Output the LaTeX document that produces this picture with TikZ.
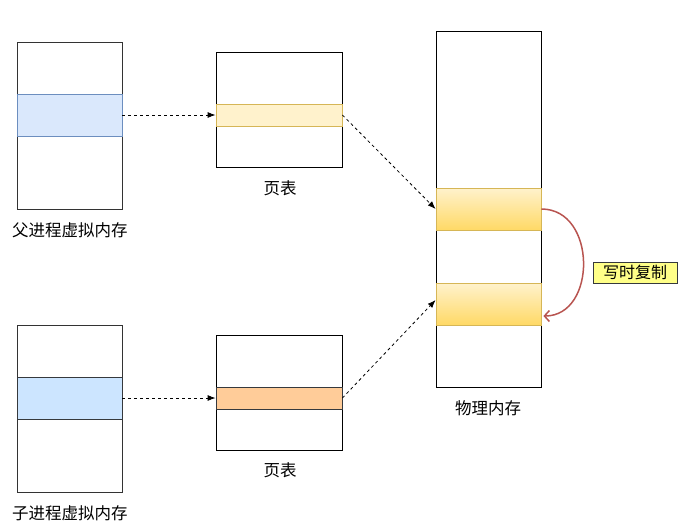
\documentclass[tikz,border=0pt]{standalone}
\usepackage{fontspec}
\setmainfont{Noto Sans CJK SC}
\usepackage{xcolor}
\usepackage{tikz}
\usetikzlibrary{calc,positioning,arrows.meta}
\definecolor{outline}{HTML}{000000}
\definecolor{bluefill}{HTML}{DAE8FC}
\definecolor{blueline}{HTML}{6C8EBF}
\definecolor{childfill}{HTML}{CCE5FF}
\definecolor{darkline}{HTML}{36393D}
\definecolor{yellowfill}{HTML}{FFF2CC}
\definecolor{yellowline}{HTML}{D6B656}
\definecolor{goldfill}{HTML}{FFD966}
\definecolor{orangefill}{HTML}{FFCC99}
\definecolor{notefill}{HTML}{FFFF88}
\definecolor{redline}{HTML}{B85450}
\definecolor{textmain}{HTML}{000000}

\begin{document}
\begin{tikzpicture}[
  x=1pt, y=-1pt,
  memblock/.style={
    rectangle, draw=outline!80, line width=1pt, fill=white,
    minimum width=105pt, inner sep=0pt,
  },
  tableblock/.style={
    rectangle, draw=outline, line width=1pt, fill=white,
    minimum width=126pt, minimum height=115pt, inner sep=0pt,
  },
  entry/.style={
    rectangle, line width=0.8pt, inner sep=0pt,
  },
  caption/.style={
    inner sep=0pt, font=\fontsize{16.5}{18}\selectfont, text=textmain,
  },
  maparrow/.style={
    -{Latex[length=8pt,width=6pt]}, dashed, dash pattern=on 3pt off 3pt,
    line width=0.8pt, draw=black,
  },
]
\useasboundingbox (0,0) rectangle (691,528);

% parent side
\node[memblock, minimum height=167pt] (vmparent) at (69.5, 125.5) {};
\node[entry, fill=bluefill, draw=blueline, minimum width=105pt, minimum height=42pt] (vpage) at (69.5, 115) {};
\node[caption] (lparent) at (70, 230) {父进程虚拟内存};

\node[tableblock] (ptparent) at (279, 109.5) {};
\node[entry, fill=yellowfill, draw=yellowline, minimum width=126pt, minimum height=22pt] (pteparent) at (279, 115) {};
\node[caption] (lptparent) at (280, 188) {页表};

% child side
\node[memblock, minimum height=167pt] (vmchild) at (69.5, 408.5) {};
\node[entry, fill=childfill, draw=darkline, minimum width=105pt, minimum height=42pt] (vchild) at (69.5, 398) {};
\node[caption] (lchild) at (70, 513) {子进程虚拟内存};

\node[tableblock] (ptchild) at (279, 392.5) {};
\node[entry, fill=orangefill, draw=darkline, minimum width=126pt, minimum height=22pt] (ptechild) at (279, 398) {};
\node[caption] (lptchild) at (280, 470) {页表};

% physical memory
\node[memblock, draw=outline, minimum height=356pt] (phys) at (488.5, 209) {};
\node[entry, top color=yellowfill, bottom color=goldfill, draw=yellowline, minimum width=105pt, minimum height=42pt] (frameold) at (488.5, 209) {};
\node[entry, top color=yellowfill, bottom color=goldfill, draw=yellowline, minimum width=105pt, minimum height=42pt] (framenew) at (488.5, 304) {};
\node[caption] (lphys) at (488, 408) {物理内存};

\node[rectangle, fill=notefill, draw=darkline, line width=1pt, minimum width=84pt, minimum height=21pt, inner sep=0pt,
  font=\fontsize{16}{18}\selectfont] (cow) at (635, 272.5) {写时复制};

\coordinate (hitnew) at ($(framenew.west)+(0,-4)$);
\coordinate (backnew) at ($(framenew.east)+(2,12)$);

% mappings
\draw[maparrow] (vpage.east) -- (pteparent.west);
\draw[maparrow] (pteparent.east) -- (frameold.west);
\draw[maparrow] (vchild.east) -- (ptechild.west);
\draw[maparrow] (ptechild.east) -- (hitnew);

\draw[draw=redline, line width=1.5pt, -{Straight Barb[length=5pt,width=11pt]}]
  (frameold.east) .. controls (597,209) and (597,316) .. (backnew);

\end{tikzpicture}
\end{document}
